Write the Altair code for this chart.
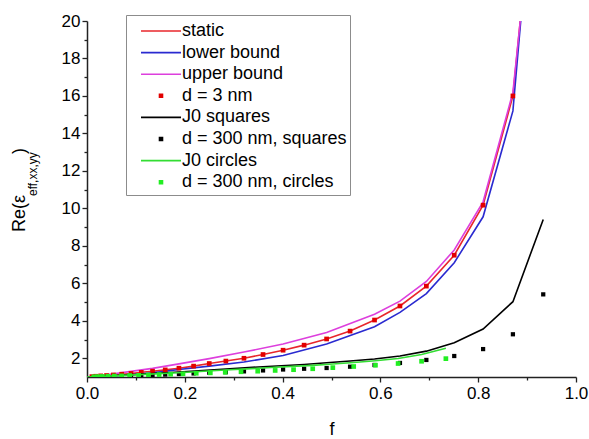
import altair as alt
import pandas as pd

FONT = "Liberation Sans"

# ---------------- data ----------------
series_order = ["static", "lower bound", "upper bound", "d = 3 nm",
                "J0 squares", "d = 300 nm, squares", "J0 circles", "d = 300 nm, circles"]
series_colors = ["#e8262b", "#2a2ad0", "#dd3fdd", "#e20000",
                 "#000000", "#000000", "#33dd33", "#22ee22"]
point_series = ["d = 3 nm", "d = 300 nm, squares", "d = 300 nm, circles"]

static_f = [0.0, 0.01, 0.018, 0.028, 0.04, 0.054, 0.071, 0.09, 0.111, 0.134, 0.16, 0.188,
            0.218, 0.25, 0.284, 0.321, 0.36, 0.401, 0.444, 0.49, 0.538, 0.588, 0.64,
            0.694, 0.751, 0.81, 0.871, 0.886]
static_v = [1.0, 1.02, 1.04, 1.06, 1.08, 1.11, 1.15, 1.19, 1.25, 1.31, 1.38, 1.47,
            1.58, 1.72, 1.85, 2.0, 2.2, 2.43, 2.7, 3.03, 3.45, 4.04, 4.79,
            5.85, 7.5, 10.17, 16.0, 20.0]

lower_f = [0.0, 0.04, 0.09, 0.134, 0.188, 0.25, 0.321, 0.401, 0.49, 0.588, 0.64,
           0.694, 0.751, 0.81, 0.871, 0.887]
lower_v = [1.0, 1.04, 1.12, 1.22, 1.4, 1.58, 1.8, 2.15, 2.76, 3.68, 4.45,
           5.45, 7.1, 9.55, 15.2, 20.0]

upper_f = [0.0, 0.04, 0.09, 0.134, 0.188, 0.25, 0.321, 0.401, 0.49, 0.588, 0.64,
           0.694, 0.751, 0.81, 0.871, 0.886]
upper_v = [1.0, 1.12, 1.3, 1.46, 1.7, 1.98, 2.33, 2.76, 3.38, 4.35, 5.05,
           6.1, 7.78, 10.35, 16.2, 20.0]

d3_f = [0.01, 0.018, 0.028, 0.04, 0.054, 0.071, 0.09, 0.111, 0.134, 0.16, 0.188,
        0.218, 0.25, 0.284, 0.321, 0.36, 0.401, 0.444, 0.49, 0.538, 0.588, 0.64,
        0.694, 0.751, 0.81, 0.871]
d3_v = [1.02, 1.04, 1.06, 1.08, 1.11, 1.15, 1.19, 1.25, 1.31, 1.38, 1.47,
        1.58, 1.72, 1.85, 2.0, 2.2, 2.43, 2.7, 3.03, 3.45, 4.04, 4.79,
        5.85, 7.5, 10.17, 16.0]

j0sq_f = [0.0, 0.09, 0.188, 0.284, 0.36, 0.444, 0.49, 0.538, 0.588, 0.64, 0.694,
          0.751, 0.81, 0.871, 0.933]
j0sq_v = [1.0, 1.12, 1.27, 1.43, 1.55, 1.67, 1.76, 1.85, 1.96, 2.12, 2.38,
          2.83, 3.56, 5.02, 9.41]

sq300_f = [0.09, 0.111, 0.134, 0.16, 0.188, 0.218, 0.25, 0.284, 0.321, 0.36, 0.401,
           0.444, 0.49, 0.538, 0.588, 0.64, 0.694, 0.751, 0.81, 0.871, 0.933]
sq300_v = [1.06, 1.08, 1.1, 1.13, 1.16, 1.19, 1.23, 1.26, 1.3, 1.35, 1.4,
           1.44, 1.48, 1.55, 1.64, 1.75, 1.91, 2.12, 2.49, 3.28, 5.41]

j0ci_f = [0.0, 0.0873, 0.1963, 0.2827, 0.3848, 0.4616, 0.5027, 0.5454, 0.5899,
          0.6362, 0.6842, 0.7339]
j0ci_v = [1.0, 1.1, 1.24, 1.37, 1.52, 1.62, 1.69, 1.77, 1.87, 1.99, 2.2, 2.53]

ci300_f = [0.014, 0.0218, 0.0314, 0.0428, 0.0559, 0.0707, 0.0873, 0.1056, 0.1257,
           0.1475, 0.171, 0.1963, 0.2234, 0.2522, 0.2827, 0.315, 0.3491, 0.3848,
           0.4224, 0.4616, 0.5027, 0.5454, 0.5899, 0.6362, 0.6842, 0.7339]
ci300_v = [1.01, 1.02, 1.03, 1.04, 1.05, 1.06, 1.08, 1.09, 1.11,
           1.13, 1.15, 1.17, 1.2, 1.22, 1.25, 1.28, 1.31, 1.35,
           1.39, 1.44, 1.5, 1.56, 1.63, 1.72, 1.84, 1.98]

# major + minor tick positions (labels only on the major ones)
x_ticks = [0.0, 0.1, 0.2, 0.3, 0.4, 0.5, 0.6, 0.7, 0.8, 0.9, 1.0]
y_ticks = [2, 3, 4, 5, 6, 7, 8, 9, 10, 11, 12, 13, 14, 15, 16, 17, 18, 19, 20]

title_main = "Re(\u03b5"
title_sub = "eff,xx,yy"
title_close = ")"


def frame(name, fs, vs):
    return pd.DataFrame({"f": fs, "v": vs, "series": name})


# ---------------- chart ----------------
W, H = 489, 356
xs = alt.Scale(domain=[0, 1], nice=False, zero=False)
ys = alt.Scale(domain=[1, 20], nice=False, zero=False)
cs = alt.Scale(domain=series_order, range=series_colors)

pts_list = "['" + "','".join(point_series) + "']"
is_pt = f"indexof({pts_list}, datum.value) >= 0"
LINE_PATH = "M0.6,0L8.6,0"
SQ_PATH = "M4.3,-0.3L4.9,-0.3L4.9,0.3L4.3,0.3Z"

legend = alt.Legend(
    title=" ", titleFontSize=3, titlePadding=1,
    orient="none", legendX=39, legendY=-6,
    fillColor="white", strokeColor="#8c8c8c", padding=3,
    labelFont=FONT, labelFontSize=18, labelColor="black", labelLimit=400,
    labelOffset=35, rowPadding=3.6, symbolSize=100,
    symbolType={"expr": f"{is_pt} ? '{SQ_PATH}' : '{LINE_PATH}'"},
    symbolFillColor={"expr": "scale('color', datum.value)"},
    symbolStrokeColor={"expr": "scale('color', datum.value)"},
    symbolStrokeWidth=1.6, symbolOpacity=1,
)

x_major = "round(datum.value * 10) % 2 == 0"
y_major = "round(datum.value) % 2 == 0"

x_axis = alt.Axis(values=x_ticks, title="f", grid=False, labelFlush=False,
                  labelExpr=f"{x_major} ? format(datum.value, '.1f') : ''",
                  tickSize={"condition": {"test": x_major, "value": 5}, "value": 3},
                  labelPadding=3, titlePadding=19)
y_axis = alt.Axis(values=y_ticks, title=None, grid=False, labelFlush=False,
                  labelExpr=f"{y_major} ? format(datum.value, 'd') : ''",
                  tickSize={"condition": {"test": y_major, "value": 5}, "value": 3},
                  labelPadding=2)


def line_layer(df):
    return alt.Chart(df).mark_line(strokeWidth=1.6, clip=True).encode(
        x=alt.X("f:Q", scale=xs, axis=x_axis),
        y=alt.Y("v:Q", scale=ys, axis=y_axis),
        color=alt.Color("series:N", scale=cs, legend=legend),
        order="f:Q",
    )


def point_layer(df, size):
    return alt.Chart(df).mark_point(shape="square", filled=True, opacity=1,
                                    size=size, clip=True).encode(
        x=alt.X("f:Q", scale=xs, axis=x_axis),
        y=alt.Y("v:Q", scale=ys, axis=y_axis),
        color=alt.Color("series:N", scale=cs, legend=legend),
    )


def title_text(txt, size, xpos, ypos):
    return alt.Chart(pd.DataFrame({"t": [txt]})).mark_text(
        angle=270, align="left", baseline="alphabetic", font=FONT,
        fontSize=size, color="black").encode(
        text="t:N", x=alt.value(xpos), y=alt.value(ypos))


layers = [
    line_layer(frame("static", static_f, static_v)),
    line_layer(frame("lower bound", lower_f, lower_v)),
    line_layer(frame("upper bound", upper_f, upper_v)),
    point_layer(frame("d = 3 nm", d3_f, d3_v), 22),
    line_layer(frame("J0 squares", j0sq_f, j0sq_v)),
    point_layer(frame("d = 300 nm, squares", sq300_f, sq300_v), 18),
    line_layer(frame("J0 circles", j0ci_f, j0ci_v)),
    point_layer(frame("d = 300 nm, circles", ci300_f, ci300_v), 22),
    title_text(title_main, 18, -62, 211),
    title_text(title_sub, 12, -50, 175),
    title_text(title_close, 18, -62, 133),
]

chart = alt.layer(*layers).properties(
    width=W, height=H,
    autosize=alt.AutoSizeParams(type="none"),
    padding={"left": 87, "top": 21, "right": 13, "bottom": 62},
).configure_view(strokeWidth=0).configure_axis(
    labelFont=FONT, labelFontSize=17, labelColor="black",
    titleFont=FONT, titleFontSize=18, titleFontWeight="normal", titleColor="black",
    domainColor="#222222", domainWidth=1.5, tickColor="#222222", tickWidth=1.3,
)

chart.save("out.html", embed_options={"renderer": "svg", "actions": False})
